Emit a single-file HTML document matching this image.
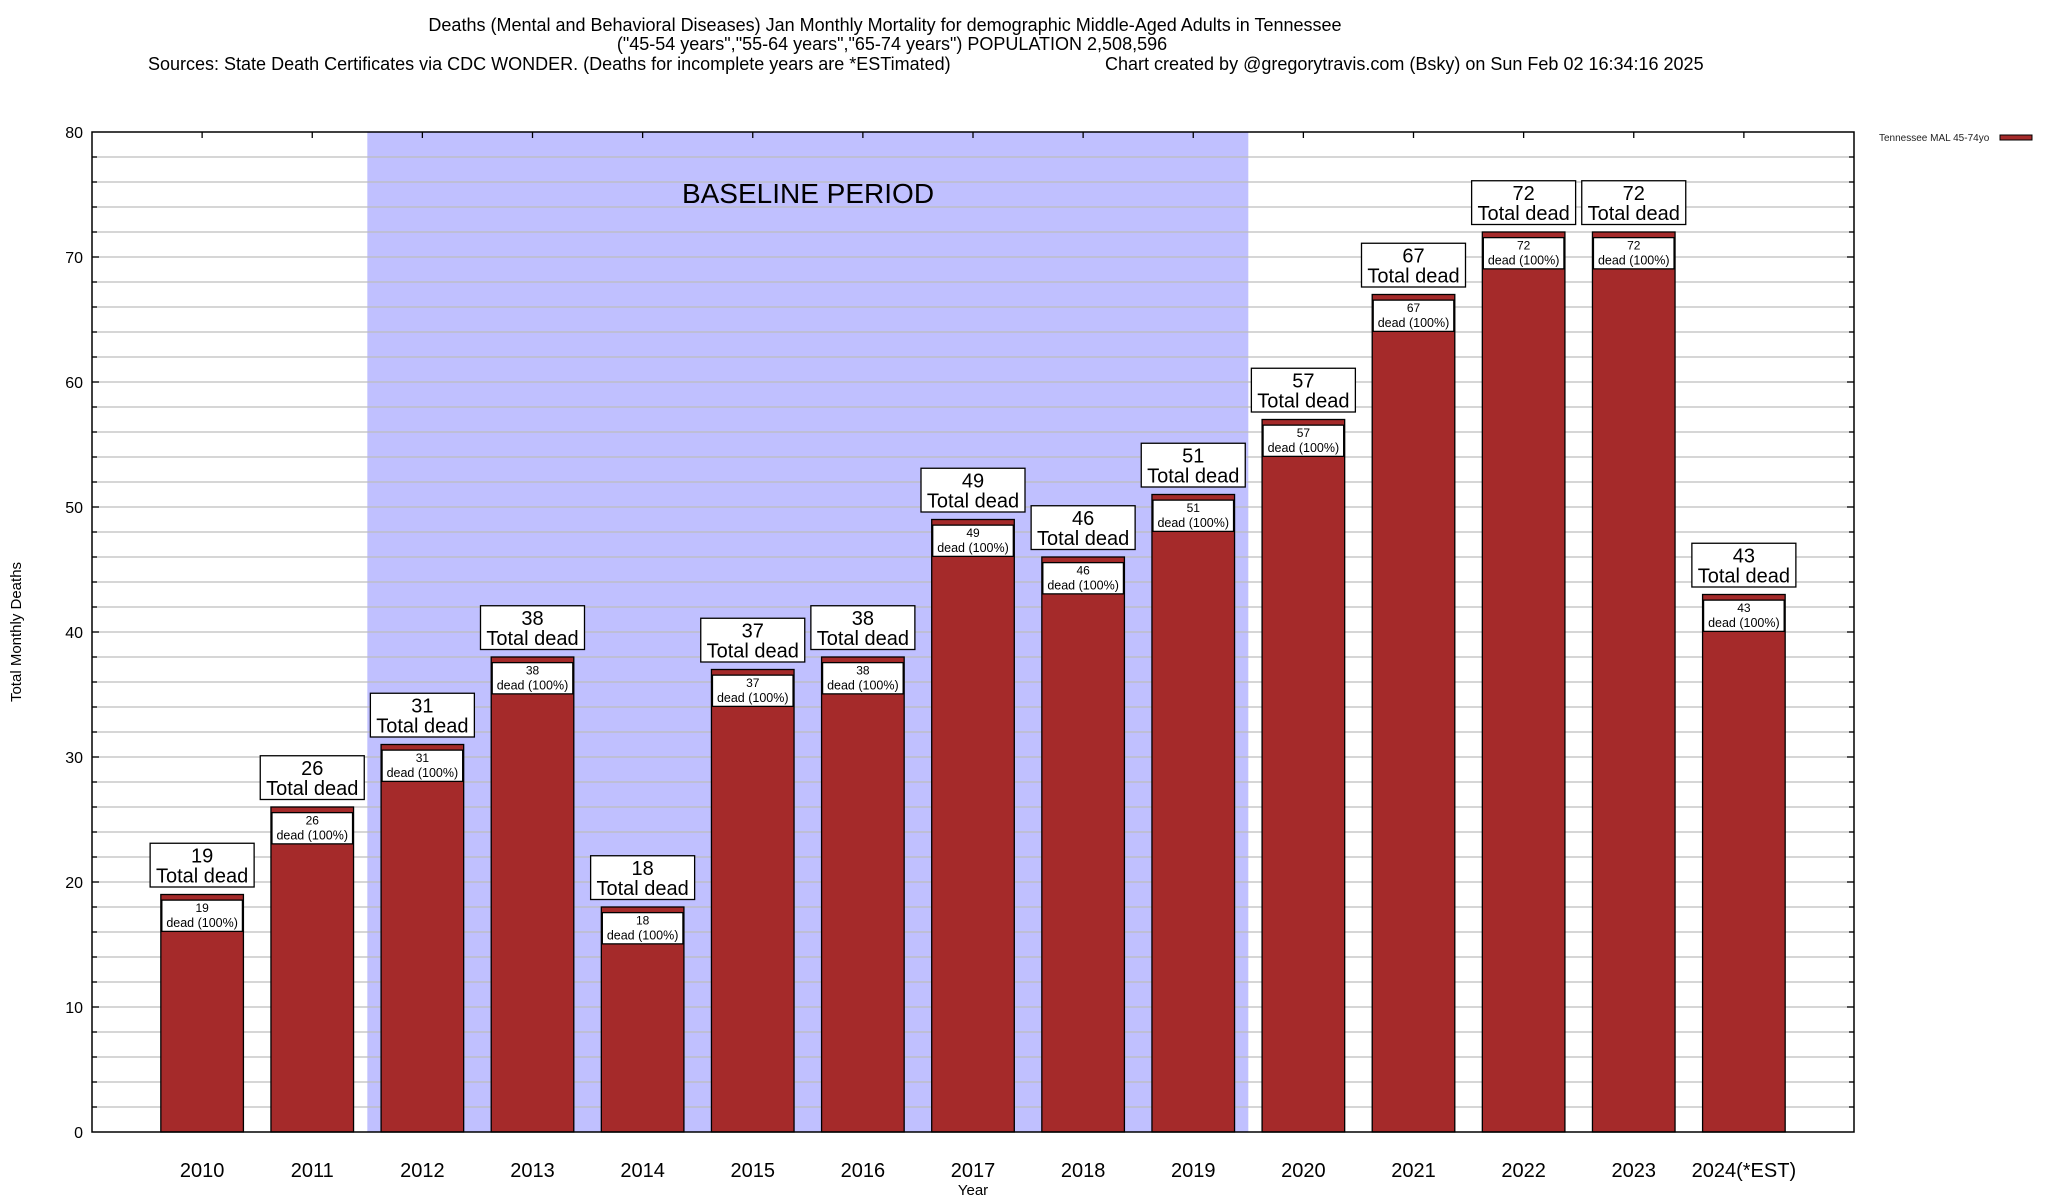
<!DOCTYPE html>
<html><head><meta charset="utf-8">
<style>
html,body{margin:0;padding:0;background:#fff;}
svg{display:block;font-family:"Liberation Sans",Arial,sans-serif;}
</style></head>
<body>
<svg id="chart" width="2048" height="1200" viewBox="0 0 2048 1200" xmlns="http://www.w3.org/2000/svg">
<rect x="0" y="0" width="2048" height="1200" fill="#fff"/>
<g font-size="18" fill="#000">
<text x="885" y="31" text-anchor="middle">Deaths (Mental and Behavioral Diseases) Jan Monthly Mortality for demographic Middle-Aged Adults in Tennessee</text>
<text x="892" y="50" text-anchor="middle">("45-54 years","55-64 years","65-74 years") POPULATION 2,508,596</text>
<text x="148" y="70">Sources: State Death Certificates via CDC WONDER. (Deaths for incomplete years are *ESTimated)</text>
<text x="1105" y="70">Chart created by @gregorytravis.com (Bsky) on Sun Feb 02 16:34:16 2025</text>
</g>
<g id="plot"></g>
<g>
<text x="1879" y="141" font-size="10" fill="#222">Tennessee MAL 45-74yo</text>
<rect x="2000" y="135" width="32" height="5" fill="#a52a2a" stroke="#000" stroke-width="1"/>
</g>
<text transform="translate(21,632) rotate(-90)" text-anchor="middle" font-size="15">Total Monthly Deaths</text>
<text x="973" y="1195" text-anchor="middle" font-size="15">Year</text>
</svg>
<script>
const categories = ["2010","2011","2012","2013","2014","2015","2016","2017","2018","2019","2020","2021","2022","2023","2024(*EST)"];
const deaths = [19,26,31,38,18,37,38,49,46,51,57,67,72,72,43];
const yTicks = [0,10,20,30,40,50,60,70,80];
const baselineRange = [1.5, 9.5];

const L=92, R=1854, T=132, B=1132;
const xMin=-1, xMax=15, yMax=80;
const xs = v => L + (v - xMin) * (R - L) / (xMax - xMin);
const ys = v => B - v * (B - T) / yMax;
const NS="http://www.w3.org/2000/svg";
const plot=document.getElementById('plot');
function mk(tag, attrs, parent){const e=document.createElementNS(NS,tag);for(const k in attrs)e.setAttribute(k,attrs[k]);(parent||plot).appendChild(e);return e;}

// baseline shading
const sh=mk('rect',{x:xs(baselineRange[0]),y:T,width:xs(baselineRange[1])-xs(baselineRange[0]),height:B-T,fill:'#c0c0ff'});



// gridlines every 2
for(let v=2; v<yMax; v+=2){
  const g=mk('line',{x1:L,x2:R,y1:ys(v),y2:ys(v),stroke:'#bdbdbd','stroke-width':1.3});
  
  
  const t1=mk('line',{x1:L,x2:L+(v%10===0?7:5),y1:ys(v),y2:ys(v),stroke:'#000','stroke-width':1.3});
  
  
  const t2=mk('line',{x1:R,x2:R-(v%10===0?7:5),y1:ys(v),y2:ys(v),stroke:'#000','stroke-width':1.3});
  
  
}
const bt=mk('text',{x:808,y:203,'font-size':28,'text-anchor':'middle'});
bt.textContent='BASELINE PERIOD';



yTicks.forEach(v=>{
  const t=mk('text',{x:83,y:ys(v)+6,'font-size':16,'text-anchor':'end'});
  t.textContent=v;
  
  
});

const bw=0.75;
categories.forEach((c,i)=>{
  const v=deaths[i];
  const x0=xs(i-bw/2), x1=xs(i+bw/2);
  const tt=mk('line',{x1:xs(i),x2:xs(i),y1:T,y2:T+6,stroke:'#000','stroke-width':1.3});
  
  
  const bar=mk('rect',{x:x0,y:ys(v),width:x1-x0,height:ys(0)-ys(v),fill:'#a52a2a',stroke:'#000','stroke-width':1.3});
  
  
  const ib=mk('rect',{x:x0+1,y:ys(v-0.45),width:x1-x0-2,height:ys(v-2.95)-ys(v-0.45),fill:'#fff',stroke:'#000','stroke-width':1.3});
  
  
  const it1=mk('text',{x:xs(i),y:ys(v-0.45)+12,'font-size':12,'text-anchor':'middle'});
  it1.textContent=v;
  
  
  const it2=mk('text',{x:xs(i),y:ys(v-0.45)+27,'font-size':12.5,'text-anchor':'middle'});
  it2.textContent='dead (100%)';
  
  
  const ob=mk('rect',{x:xs(i)-52,y:ys(v+4.1),width:104,height:ys(v+0.6)-ys(v+4.1),fill:'#fff',stroke:'#000','stroke-width':1.3});
  
  
  const o1=mk('text',{x:xs(i),y:ys(v+4.1)+19,'font-size':20,'text-anchor':'middle'});
  o1.textContent=v;
  
  
  const o2=mk('text',{x:xs(i),y:ys(v+4.1)+39,'font-size':20,'text-anchor':'middle'});
  o2.textContent='Total dead';
  
  
  const xl=mk('text',{x:xs(i),y:1177,'font-size':20,'text-anchor':'middle'});
  xl.textContent=c;
  
  
});
const frame=mk('rect',{x:L,y:T,width:R-L,height:B-T,fill:'none',stroke:'#000','stroke-width':1.5});


</script>
</body></html>
